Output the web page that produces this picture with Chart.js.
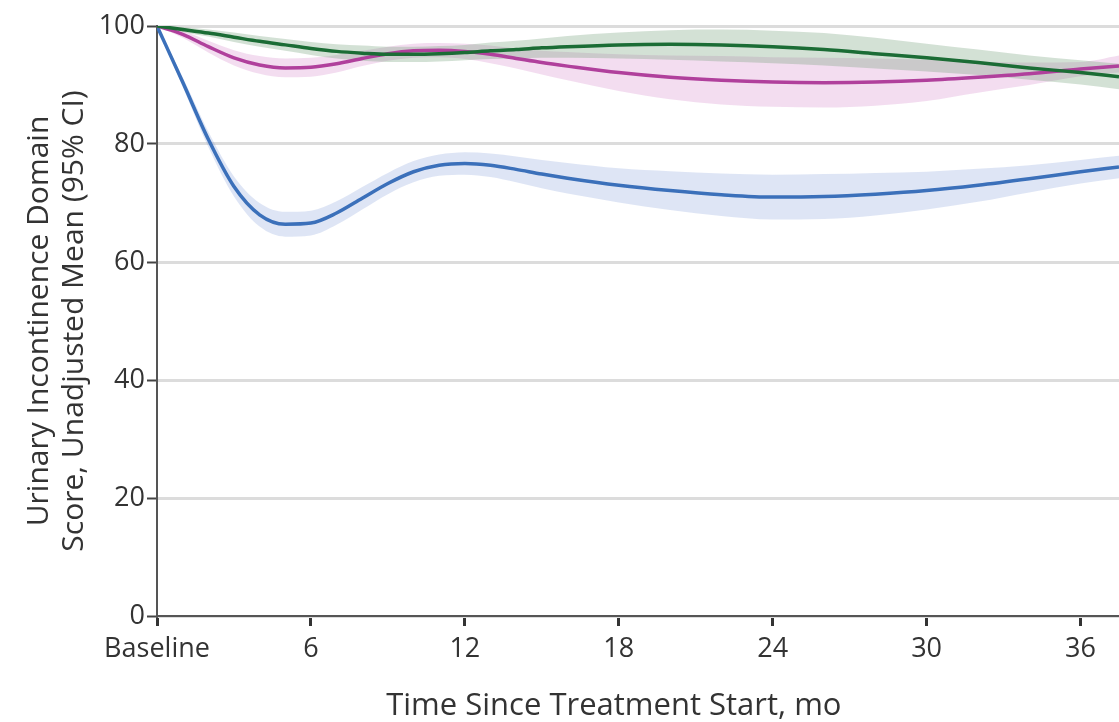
<!DOCTYPE html>
<html lang="en">
<head>
    <meta charset="UTF-8">
    <title>Urinary Incontinence Domain Score</title>
    <script src="https://cdn.jsdelivr.net/npm/chart.js"></script>
    <style>
        body { margin: 0; background: #fff; }
        canvas { display: block; }
    </style>
</head>
<body>

<canvas id="scoreChart" width="1119" height="722"></canvas>

<script>
    // months since treatment start (0 = baseline)
    const months = [0, 1, 2, 3, 4, 5, 6, 7, 8, 9, 10, 11, 12, 13, 14, 15, 16, 18, 20, 22, 24, 26, 28, 30, 32, 34, 36, 37.5];

    // blue group
    const blueMean = [100, 90.5, 80.8, 72.8, 68.0, 66.4, 66.6, 68.3, 70.8, 73.3, 75.3, 76.4, 76.7, 76.4, 75.7, 74.9, 74.2, 73.0, 72.1, 71.4, 71.0, 71.1, 71.5, 72.1, 73.0, 74.1, 75.3, 76.1];
    const blueLow  = [100, 89.7, 79.5, 71.1, 66.0, 64.3, 64.5, 66.3, 68.9, 71.5, 73.5, 74.6, 74.8, 74.4, 73.5, 72.5, 71.6, 70.1, 68.8, 67.8, 67.2, 67.3, 67.9, 68.9, 70.2, 71.8, 73.3, 74.2];
    const blueHigh = [100, 91.3, 82.1, 74.5, 70.0, 68.5, 68.7, 70.3, 72.7, 75.1, 77.1, 78.2, 78.6, 78.4, 77.9, 77.3, 76.8, 75.9, 75.4, 75.0, 74.8, 74.9, 75.1, 75.3, 75.8, 76.4, 77.3, 78.0];

    // magenta group
    const pinkMean = [100, 98.6, 96.5, 94.6, 93.4, 92.9, 93.0, 93.6, 94.5, 95.3, 95.8, 95.9, 95.7, 95.2, 94.5, 93.8, 93.2, 92.1, 91.3, 90.8, 90.5, 90.4, 90.5, 90.8, 91.3, 91.9, 92.7, 93.2];
    const pinkLow  = [100, 98.0, 95.5, 93.3, 91.9, 91.3, 91.4, 92.1, 93.2, 94.1, 94.6, 94.7, 94.4, 93.7, 92.8, 91.8, 90.8, 89.0, 87.6, 86.7, 86.3, 86.2, 86.5, 87.3, 88.7, 90.0, 91.5, 92.1];
    const pinkHigh = [100, 99.2, 97.5, 95.9, 94.9, 94.5, 94.6, 95.1, 95.8, 96.5, 97.0, 97.1, 97.0, 96.7, 96.2, 95.8, 95.6, 95.2, 95.0, 94.9, 94.7, 94.6, 94.5, 94.3, 94.0, 93.8, 93.9, 95.0];

    // green group
    const greenMean = [100, 99.4, 98.8, 98.1, 97.4, 96.8, 96.2, 95.7, 95.4, 95.2, 95.2, 95.3, 95.5, 95.8, 96.0, 96.3, 96.5, 96.8, 96.9, 96.8, 96.5, 96.0, 95.3, 94.6, 93.8, 92.9, 92.1, 91.4];
    const greenLow  = [100, 99.0, 98.2, 97.3, 96.5, 95.8, 95.1, 94.5, 94.1, 93.9, 93.9, 94.0, 94.2, 94.4, 94.5, 94.6, 94.6, 94.5, 94.3, 94.0, 93.7, 93.3, 92.8, 92.3, 91.7, 90.9, 90.1, 89.3];
    const greenHigh = [100, 99.8, 99.4, 98.9, 98.3, 97.8, 97.3, 96.9, 96.7, 96.5, 96.5, 96.6, 96.8, 97.2, 97.5, 97.9, 98.3, 98.9, 99.3, 99.4, 99.2, 98.8, 98.0, 97.0, 96.0, 95.0, 94.2, 93.6];

    // axis ticks
    const xTickValues = [0, 6, 12, 18, 24, 30, 36];
    const xTickLabels = ['Baseline', '6', '12', '18', '24', '30', '36'];
    const yTickValues = [0, 20, 40, 60, 80, 100];

    const textColor = '#333';
    const sans = "'Open Sans', sans-serif";

    function pts(values) {
        return months.map((m, i) => ({ x: m, y: values[i] }));
    }

    // line dataset (lower order = drawn on top)
    function meanLine(values, color, order) {
        return {
            data: pts(values),
            borderColor: color,
            borderWidth: 3.5,
            pointRadius: 0,
            fill: false,
            cubicInterpolationMode: 'monotone',
            order: order
        };
    }

    // CI band: high edge + low edge filled back to it
    function band(high, low, color, order) {
        return [
            {
                data: pts(high),
                borderWidth: 0,
                borderColor: 'transparent',
                pointRadius: 0,
                fill: false,
                cubicInterpolationMode: 'monotone',
                order: order
            },
            {
                data: pts(low),
                borderWidth: 0,
                borderColor: 'transparent',
                backgroundColor: color,
                pointRadius: 0,
                fill: '-1',
                cubicInterpolationMode: 'monotone',
                order: order
            }
        ];
    }

    const datasets = [
        ...band(blueHigh, blueLow, 'rgba(100, 130, 210, 0.21)', 6),
        ...band(pinkHigh, pinkLow, 'rgba(200, 100, 185, 0.22)', 5),
        ...band(greenHigh, greenLow, 'rgba(110, 155, 115, 0.30)', 4),
        meanLine(blueMean, '#3b70ba', 2),
        meanLine(pinkMean, '#b0409c', 1),
        meanLine(greenMean, '#1b6c35', 0)
    ];

    const ctx = document.getElementById('scoreChart').getContext('2d');
    const scoreChart = new Chart(ctx, {
        type: 'line',
        data: { datasets: datasets },
        options: {
            responsive: false,
            animation: false,
            layout: { padding: { top: 26, right: 0, left: 0, bottom: 0 } },
            plugins: {
                legend: { display: false },
                tooltip: { enabled: false }
            },
            scales: {
                x: {
                    type: 'linear',
                    min: 0,
                    max: 37.5,
                    afterBuildTicks: (scale) => {
                        scale.ticks = xTickValues.map(v => ({ value: v }));
                    },
                    afterFit: (scale) => { scale.height = 106; },
                    ticks: {
                        callback: (value) => xTickLabels[xTickValues.indexOf(value)],
                        font: { family: sans, size: 27 },
                        color: textColor,
                        padding: 7,
                        maxRotation: 0,
                        autoSkip: false
                    },
                    grid: {
                        drawOnChartArea: false,
                        tickColor: '#333',
                        tickLength: 10,
                        tickWidth: 3
                    },
                    border: { color: '#555', width: 2 },
                    title: {
                        display: true,
                        text: 'Time Since Treatment Start, mo      ',
                        font: { family: sans, size: 31, lineHeight: 1 },
                        color: textColor,
                        padding: { top: 0, bottom: 0 }
                    }
                },
                y: {
                    min: 0,
                    max: 100,
                    afterBuildTicks: (scale) => {
                        scale.ticks = yTickValues.map(v => ({ value: v }));
                    },
                    afterFit: (scale) => { scale.width = 157; },
                    ticks: {
                        font: { family: sans, size: 27 },
                        color: textColor,
                        padding: 2
                    },
                    grid: {
                        color: '#dcdcdc',
                        lineWidth: 3,
                        tickColor: '#444',
                        tickLength: 10,
                        tickWidth: 2
                    },
                    border: { color: '#555', width: 2 },
                    title: {
                        display: true,
                        text: ['Urinary Incontinence Domain', 'Score, Unadjusted Mean (95% CI)'],
                        font: { family: sans, size: 30, lineHeight: 1.17 },
                        color: textColor,
                        padding: { top: 22, bottom: 0 }
                    }
                }
            }
        }
    });
</script>

</body>
</html>
